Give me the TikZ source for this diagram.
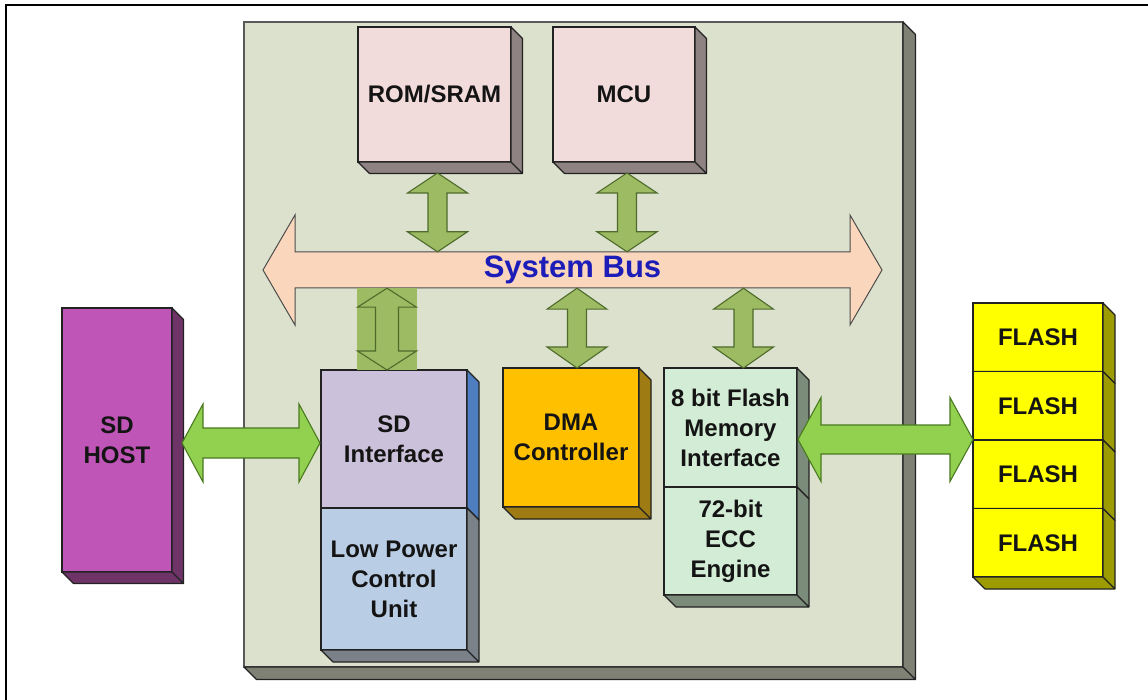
\documentclass[tikz,border=0pt]{standalone}
\usepackage{fontspec}
\setmainfont{Liberation Sans}
\usetikzlibrary{calc}

% colours
\definecolor{boardface}{HTML}{DBE1CC}
\definecolor{boardside}{HTML}{7F8175}
\definecolor{romface}{HTML}{F2DCDB}
\definecolor{romside}{HTML}{8E8282}
\definecolor{hostface}{HTML}{C055B8}
\definecolor{hostside}{HTML}{6E3468}
\definecolor{sdiface}{HTML}{CCC1DA}
\definecolor{sdiside}{HTML}{4F7EC0}
\definecolor{lpcface}{HTML}{B9CDE5}
\definecolor{lpcside}{HTML}{7B8189}
\definecolor{dmaface}{HTML}{FFC000}
\definecolor{dmaside}{HTML}{9E7C13}
\definecolor{fmiface}{HTML}{D3ECD5}
\definecolor{fmiside}{HTML}{7B8D7A}
\definecolor{flashface}{HTML}{FFFF00}
\definecolor{flashside}{HTML}{9C9C00}
\definecolor{busfill}{HTML}{FAD7BC}
\definecolor{armgreen}{HTML}{9CBB62}
\definecolor{armedge}{HTML}{4F6B2C}
\definecolor{linkgreen}{HTML}{92D050}
\definecolor{linkedge}{HTML}{4A7A20}
\definecolor{busblue}{HTML}{1C1CB8}
\definecolor{edge}{HTML}{222222}

\newcommand\lab{\fontsize{24}{30}\selectfont\bfseries}

% right and bottom faces of an extruded box: node, side colour, depth
\newcommand\extrude[3]{%
  \path[sideface, fill=#2] let \p1=(#1.north east), \p2=(#1.south west) in
    (\x1,\y1) -- ({\x1+#3},{\y1-#3}) -- ({\x1+#3},{\y2-#3}) -- (\x1,\y2) -- cycle
    (\x2,\y2) -- (\x1,\y2) -- ({\x1+#3},{\y2-#3}) -- ({\x2+#3},{\y2-#3}) -- cycle;}

% vertical double block arrow: style, top tip, bottom tip, half shaft, half head, head length
\newcommand\vdarrow[6]{%
  \path[#1] let \p1=#2, \p2=#3 in
    (\x1,\y1) -- ({\x1+#5},{\y1-#6}) -- ({\x1+#4},{\y1-#6}) -- ({\x1+#4},{\y2+#6})
    -- ({\x1+#5},{\y2+#6}) -- (\x1,\y2) -- ({\x1-#5},{\y2+#6}) -- ({\x1-#4},{\y2+#6})
    -- ({\x1-#4},{\y1-#6}) -- ({\x1-#5},{\y1-#6}) -- cycle;}

% horizontal double block arrow: style, left tip, right tip, half shaft, half head, head length
\newcommand\hdarrow[6]{%
  \path[#1] let \p1=#2, \p2=#3 in
    (\x1,\y1) -- ({\x1+#6},{\y1+#5}) -- ({\x1+#6},{\y1+#4}) -- ({\x2-#6},{\y1+#4})
    -- ({\x2-#6},{\y1+#5}) -- (\x2,\y1) -- ({\x2-#6},{\y1-#5}) -- ({\x2-#6},{\y1-#4})
    -- ({\x1+#6},{\y1-#4}) -- ({\x1+#6},{\y1-#5}) -- cycle;}

\tikzset{
  face/.style={draw=edge, line width=1.1pt, inner sep=0pt, outer sep=0pt,
    align=center, font=\lab, text=black!92},
  sideface/.style={draw=edge, line width=1.1pt, line join=round},
  armarrow/.style={fill=armgreen, draw=armedge, line width=1.1pt, line join=miter},
  linkarrow/.style={fill=linkgreen, draw=linkedge, line width=1.1pt, line join=miter},
  busarrow/.style={fill=busfill, draw=black!70, line width=1pt, line join=miter},
}

\begin{document}
\begin{tikzpicture}[x=1pt,y=-1pt]
\useasboundingbox (0,0) rectangle (1148,700);
\fill[white] (0,0) rectangle (1148,700);

% outer frame
\draw[line width=2pt, black] (6,700) -- (6,5) -- (1148,5);

% controller die
\node[face, draw=black!65, fill=boardface, minimum width=659, minimum height=645] (board) at (573.5,344.5) {};
\extrude{board}{boardside}{12.5}

% memory and processor
\node[face, fill=romface, minimum width=153, minimum height=135] (rom) at (434.5,94.5) {ROM/SRAM};
\extrude{rom}{romside}{11.5}
\node[face, fill=romface, minimum width=142, minimum height=135] (mcu) at (624,94.5) {MCU};
\extrude{mcu}{romside}{11.5}

% system bus
\coordinate (busL) at (263,270);
\coordinate (busR) at (882,270);
\hdarrow{busarrow}{(busL)}{(busR)}{18pt}{55pt}{32pt}
\node[inner sep=0pt, minimum width=555, minimum height=36, font=\fontsize{31}{31}\selectfont\bfseries, text=busblue]
  (bus) at ($(busL)!0.5!(busR)$) {System Bus};

% bus to memory and processor
\coordinate (romport) at ($(rom.south)+(3,11)$);
\coordinate (mcuport) at ($(mcu.south)+(3,11)$);
\vdarrow{armarrow}{(romport)}{(romport |- bus.north)}{9.5pt}{30pt}{20pt}
\vdarrow{armarrow}{(mcuport)}{(mcuport |- bus.north)}{9.5pt}{30pt}{20pt}

% SD host
\node[face, fill=hostface, minimum width=110, minimum height=264] (host) at (117,440) {SD\\HOST};
\extrude{host}{hostside}{11.5}

% SD interface and low power unit
\node[face, fill=sdiface, minimum width=146, minimum height=138] (sdi) at (394,439) {SD\\Interface};
\extrude{sdi}{sdiside}{12}
\node[face, fill=lpcface, minimum width=146, minimum height=142] (lpc) at (394,579) {Low Power\\Control\\Unit};
\extrude{lpc}{lpcside}{12}

% DMA
\node[face, fill=dmaface, minimum width=136, minimum height=139] (dma) at (571,437.5) {DMA\\Controller};
\extrude{dma}{dmaside}{12}

% flash memory interface and ECC
\node[face, fill=fmiface, minimum width=133, minimum height=119] (fmi) at (730.5,427.5) {8 bit Flash\\Memory\\Interface};
\extrude{fmi}{fmiside}{12}
\node[face, fill=fmiface, minimum width=133, minimum height=108] (ecc) at (730.5,541) {72-bit\\ECC\\Engine};
\extrude{ecc}{fmiside}{12}

% flash devices
\foreach \i/\yc in {1/337.25, 2/405.75, 3/474.25, 4/542.75} {
  \node[face, fill=flashface, minimum width=130, minimum height=68.5] (flash\i) at (1038,\yc) {FLASH};
  \extrude{flash\i}{flashside}{12}
}

% bus to SD interface (highlighted port)
\coordinate (sdiport) at ($(sdi.north)+(-7,0)$);
\fill[armgreen] ($(sdiport |- bus.south)+(-30,0)$) rectangle ($(sdiport)+(30,0)$);
\vdarrow{armarrow}{(sdiport |- bus.south)}{(sdiport)}{11.5pt}{29.5pt}{19pt}

% bus to DMA and flash memory interface
\coordinate (dmaport) at ($(dma.north)+(6,0)$);
\coordinate (fmiport) at ($(fmi.north)+(13,0)$);
\vdarrow{armarrow}{(dmaport |- bus.south)}{(dmaport)}{9.5pt}{30pt}{21pt}
\vdarrow{armarrow}{(fmiport |- bus.south)}{(fmiport)}{9.5pt}{30pt}{21pt}

% host link and flash link
\hdarrow{linkarrow}{($(host.east)+(10,3)$)}{($(sdi.west)+(-1,0)$)}{15pt}{39pt}{21pt}
\hdarrow{linkarrow}{($(fmi.east)+(1,12)$)}{(flash3.west)}{14.5pt}{42pt}{23pt}
\end{tikzpicture}
\end{document}
